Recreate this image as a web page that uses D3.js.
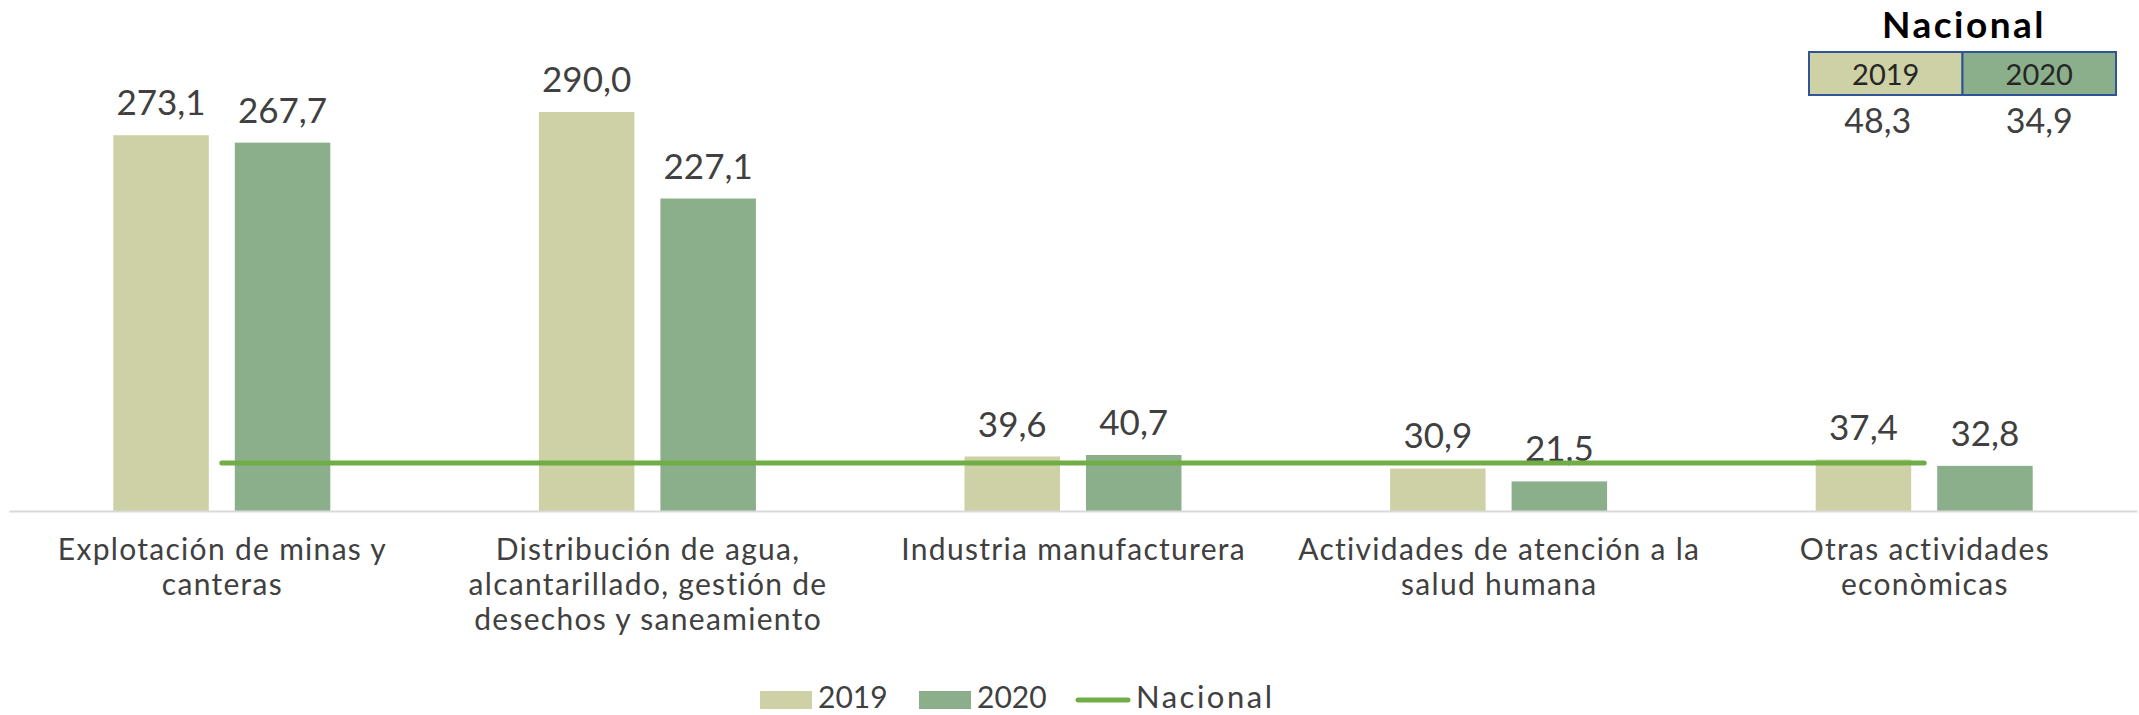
<!DOCTYPE html>
<html>
<head>
<meta charset="utf-8">
<script src="https://cdn.jsdelivr.net/npm/d3@7"></script>
<style>
  html, body { margin: 0; padding: 0; background: #ffffff; }
  svg { display: block; }
  text { font-family: Lato, "Open Sans", sans-serif; }
</style>
</head>
<body>
<svg id="chart" width="2139" height="715"></svg>
<script>
// ---- data ----
const categories = [
  ["Explotación de minas y", "canteras"],
  ["Distribución de agua,", "alcantarillado, gestión de", "desechos y saneamiento"],
  ["Industria manufacturera"],
  ["Actividades de atención a la", "salud humana"],
  ["Otras actividades", "econòmicas"]
];
const seriesNames = ["2019", "2020"];
const values2019 = [273.1, 290.0, 39.6, 30.9, 37.4];
const values2020 = [267.7, 227.1, 40.7, 21.5, 32.8];
const nacionalValues = [48.3, 34.9];          // 2019, 2020
const nacionalLine = [34.9, 34.9, 34.9, 34.9, 34.9];

const colors = { "2019": "#CED1A5", "2020": "#8BAF8A", line: "#70AD47" };
const textColor = "#404040";

const svg = d3.select("#chart");
const catKeys = categories.map((c, i) => "c" + i);

// ---- scales ----
const x0 = d3.scaleBand().domain(catKeys).range([9, 2137]).paddingInner(0).paddingOuter(0);
const x1 = d3.scaleBand().domain(seriesNames).range([-108.5, 108.5]).paddingInner(0.214);
const y = d3.scaleLinear().domain([0, 300]).range([511, 98.2]);

const rows = catKeys.map((k, i) => ({ key: k, v: { "2019": values2019[i], "2020": values2020[i] } }));

// ---- bars ----
const groups = svg.append("g").selectAll("g").data(rows).join("g")
  .attr("transform", d => `translate(${x0(d.key) + x0.bandwidth() / 2},0)`);

groups.selectAll("rect").data(d => seriesNames.map(s => ({ s, v: d.v[s] }))).join("rect")
  .attr("x", d => x1(d.s))
  .attr("width", x1.bandwidth())
  .attr("y", d => y(d.v))
  .attr("height", d => y(0) - y(d.v))
  .attr("fill", d => colors[d.s]);

// ---- axis ----
const axis = svg.append("g")
  .attr("transform", `translate(0,${y(0)})`)
  .call(d3.axisBottom(x0).tickSize(0).tickPadding(0).tickFormat(() => ""));
axis.select(".domain").attr("stroke", "#D9D9D9").attr("stroke-width", 2);

axis.selectAll(".tick text").each(function (d, i) {
  const t = d3.select(this)
    .attr("fill", textColor)
    .attr("font-size", 30)
    .attr("letter-spacing", 1.3)
    .attr("y", 0).attr("dy", null);
  t.selectAll("tspan").data(categories[i]).join("tspan")
    .attr("x", 0.65)
    .attr("y", (l, j) => 49 + j * 35)
    .text(l => l);
});

// ---- national line ----
const line = d3.line()
  .x((d, i) => x0(catKeys[i]) + x0.bandwidth() / 2)
  .y(d => y(d));
svg.append("path")
  .datum(nacionalLine)
  .attr("d", line)
  .attr("fill", "none")
  .attr("stroke", colors.line)
  .attr("stroke-width", 5)
  .attr("stroke-linecap", "round");

// ---- value labels ----
const fmt = v => d3.format(".1f")(v).replace(".", ",");
groups.selectAll("text.val").data(d => seriesNames.map(s => ({ s, v: d.v[s] }))).join("text")
  .attr("class", "val")
  .attr("x", d => x1(d.s) + x1.bandwidth() / 2)
  .attr("y", d => y(d.v) - 20)
  .attr("text-anchor", "middle")
  .attr("font-size", 35)
  .attr("fill", textColor)
  .text(d => fmt(d.v));

// ---- top-right national box ----
const boxX = d3.scaleBand().domain(seriesNames).range([1809, 2116]);
const box = svg.append("g");
box.append("text")
  .attr("x", 1964).attr("y", 38)
  .attr("text-anchor", "middle")
  .attr("font-size", 37).attr("font-weight", "bold")
  .attr("letter-spacing", 2.5)
  .attr("fill", "#000000")
  .text("Nacional");
box.selectAll("rect").data(seriesNames).join("rect")
  .attr("x", d => boxX(d)).attr("y", 52)
  .attr("width", boxX.bandwidth()).attr("height", 43)
  .attr("fill", d => colors[d])
  .attr("stroke", "#2F5597").attr("stroke-width", 2);
box.selectAll("text.yr").data(seriesNames).join("text")
  .attr("class", "yr")
  .attr("x", d => boxX(d) + boxX.bandwidth() / 2).attr("y", 85)
  .attr("text-anchor", "middle").attr("font-size", 29)
  .attr("fill", "#262626")
  .text(d => d);
box.selectAll("text.nv").data(nacionalValues).join("text")
  .attr("class", "nv")
  .attr("x", (d, i) => boxX(seriesNames[i]) + boxX.bandwidth() / 2 - (i === 0 ? 8 : 0))
  .attr("y", 133)
  .attr("text-anchor", "middle").attr("font-size", 34)
  .attr("fill", textColor)
  .text(d => fmt(d));

// ---- bottom legend ----
const legend = svg.append("g");
const legItems = [
  { label: "2019", type: "rect", x: 760 },
  { label: "2020", type: "rect", x: 919 },
  { label: "Nacional", type: "line", x: 1076 }
];
legItems.forEach(it => {
  if (it.type === "rect") {
    legend.append("rect").attr("x", it.x).attr("y", 691).attr("width", 52).attr("height", 18)
      .attr("fill", colors[it.label]);
    legend.append("text").attr("x", it.x + 58).attr("y", 708).attr("font-size", 30)
      .attr("fill", textColor).text(it.label);
  } else {
    legend.append("line").attr("x1", it.x + 2).attr("x2", it.x + 52).attr("y1", 700).attr("y2", 700)
      .attr("stroke", colors.line).attr("stroke-width", 5).attr("stroke-linecap", "round");
    legend.append("text").attr("x", it.x + 60).attr("y", 708).attr("font-size", 31)
      .attr("letter-spacing", 2.5)
      .attr("fill", textColor).text(it.label);
  }
});
</script>
</body>
</html>
